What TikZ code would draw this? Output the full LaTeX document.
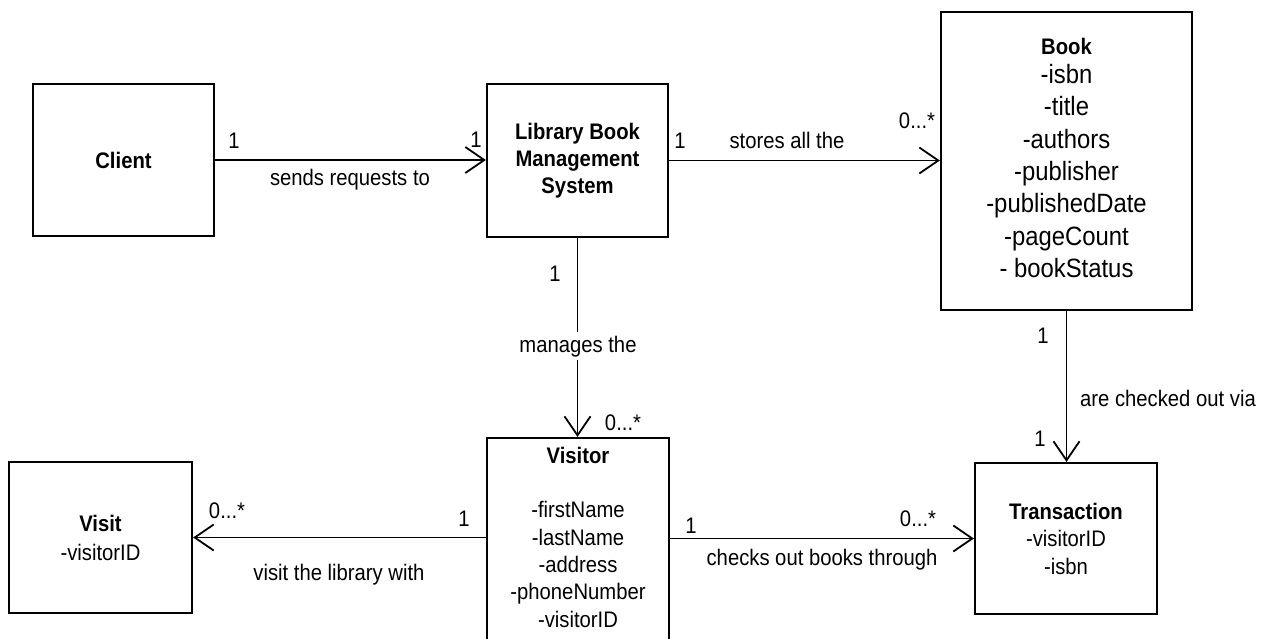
\documentclass[tikz,border=0pt]{standalone}
\usepackage{fontspec}
\setmainfont{Liberation Sans}[FakeStretch=0.9]
\usetikzlibrary{arrows.meta}

\begin{document}
\begin{tikzpicture}[x=1pt, y=-1pt,
  every node/.style={font=\fontsize{22.5}{27}\selectfont},
  cls/.style={draw, line width=2.2pt, inner sep=0pt, align=center},
  attrs/.style={inner sep=0pt, align=center, anchor=north},
  assoc/.style={line width=1.8pt, -{Straight Barb[length=19pt, width=26pt]}},
  lbl/.style={inner sep=0pt, text height=16pt, text depth=0pt},
]
\useasboundingbox (0,0) rectangle (1272,638);
\clip (0,0) rectangle (1272,638);

% classes
\node[cls, minimum width=181pt, minimum height=152pt] (client) at (123.5,160) {\textbf{Client}};
\node[cls, minimum width=181pt, minimum height=153pt,
      font=\fontsize{22.5}{27}\selectfont\bfseries] (lbms) at (577.5,160.5)
      {Library Book\\Management\\System};
\node[cls, minimum width=251pt, minimum height=298pt] (book) at (1066.5,161) {};
\node[attrs, font=\fontsize{26.5}{32.3}\selectfont] (booktext) at (1066.5,37.8)
      {{\fontsize{22.5}{32.3}\selectfont\bfseries Book}\\[-3pt]-isbn\\-title\\-authors\\-publisher\\-publishedDate\\-pageCount\\- bookStatus};
\node[cls, minimum width=182pt, minimum height=240pt] (visitor) at (578,558) {};
\node[attrs, font=\fontsize{22.5}{27.3}\selectfont] (visitortext) at (578,446.8)
      {\textbf{Visitor}\\[27.3pt]-firstName\\-lastName\\-address\\-phoneNumber\\-visitorID};
\node[cls, minimum width=182pt, minimum height=151pt,
      font=\fontsize{22.5}{27.5}\selectfont] (trans) at (1066,538.5)
      {\textbf{Transaction}\\-visitorID\\-isbn};
\node[cls, minimum width=183pt, minimum height=151pt,
      font=\fontsize{22.5}{29}\selectfont] (visit) at (100.5,537.5)
      {\textbf{Visit}\\-visitorID};

% associations
\draw[assoc] (client.east) -- (client.east -| lbms.west);
\draw[assoc] (lbms.east) -- (lbms.east -| book.west);
\draw[assoc] (lbms.south) -- (lbms.south |- visitor.north);
\draw[assoc] (book.south) -- (book.south |- trans.north);
\draw[assoc] (visitor.east |- trans.west) -- (trans.west);
\draw[assoc] (visitor.west |- visit.east) -- (visit.east);

% association labels and multiplicities
\node[lbl] (m1) at (234,140) {1};
\node[lbl] (m2) at (476,139) {1};
\node[lbl] (a1) at (350,177) {sends requests to};

\node[lbl] (m3) at (680,140) {1};
\node[lbl] (a2) at (787,140) {stores all the};
\node[lbl] (m4) at (917,120) {0...*};

\node[lbl] (m5) at (555,273) {1};
\node[lbl, fill=white, inner xsep=3pt, inner ysep=4pt, text depth=4pt] (a3) at (578,346) {manages the};
\node[lbl] (m6) at (623,422) {0...*};

\node[lbl] (m7) at (1043,335) {1};
\node[lbl, anchor=west] (a4) at (1080,398) {are checked out via};
\node[lbl] (m8) at (1040,438) {1};

\node[lbl] (m9) at (691,525) {1};
\node[lbl] (m10) at (918,518) {0...*};
\node[lbl] (a5) at (822,557) {checks out books through};

\node[lbl] (m11) at (227,510) {0...*};
\node[lbl] (m12) at (464,518) {1};
\node[lbl] (a6) at (339,572) {visit the library with};
\end{tikzpicture}
\end{document}
